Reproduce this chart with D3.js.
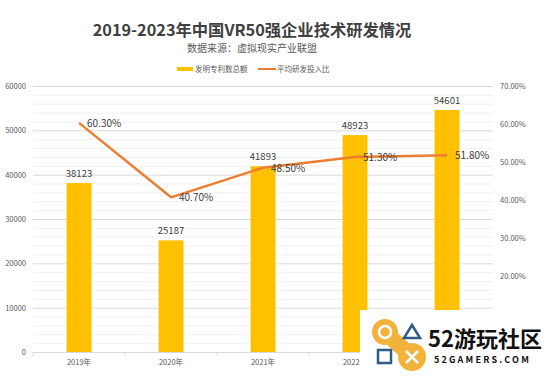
<!DOCTYPE html>
<html>
<head>
<meta charset="utf-8">
<script src="https://cdn.jsdelivr.net/npm/d3@7"></script>
<style>
body { margin:0; background:#fff; }
text { font-family: "Noto Sans CJK SC", "Noto Sans", sans-serif; }
</style>
</head>
<body>
<script>

var years = ["2019年", "2020年", "2021年", "2022年", "2023年"]
var patents = [38123, 25187, 41893, 48923, 54601]
var rdRatio = [60.3, 40.7, 48.5, 51.3, 51.8]
var leftTicks = [0, 10000, 20000, 30000, 40000, 50000, 60000]
// 0% and 10% sit under the watermark box in the original
var rightTicks = [20, 30, 40, 50, 60, 70]

var width = 550, height = 377
// note: "top" is taken by window.top, so plot edges get their own names
var plotLeft = 33, plotRight = 493, plotTop = 86, plotBottom = 352

var svg = d3.select("body").append("svg")
            .attr("width", width)
            .attr("height", height)

var x = d3.scaleBand().domain(years).range([plotLeft, plotRight]).paddingInner(0.73).paddingOuter(0.365)
var yL = d3.scaleLinear().domain([0, 60000]).range([plotBottom, plotTop])
var yR = d3.scaleLinear().domain([0, 70]).range([plotBottom, plotTop])

// title
svg.append("text").attr("x", 252).attr("y", 36).attr("text-anchor", "middle")
   .style("font-size", "16.3px").style("font-weight", "bold").style("fill", "#404040")
   .text("2019-2023年中国VR50强企业技术研发情况")
svg.append("text").attr("x", 252).attr("y", 52).attr("text-anchor", "middle")
   .style("font-size", "10px").style("fill", "#595959")
   .text("数据来源：虚拟现实产业联盟")

// legend
svg.append("rect").attr("x", 177).attr("y", 67).attr("width", 16).attr("height", 4).style("fill", "#FFC000")
svg.append("text").attr("x", 195).attr("y", 72).style("font-size", "7.5px").style("fill", "#595959").text("发明专利数总额")
svg.append("line").attr("x1", 258).attr("x2", 276).attr("y1", 69).attr("y2", 69)
   .style("stroke", "#ED7D31").style("stroke-width", 2)
svg.append("text").attr("x", 277).attr("y", 72).style("font-size", "7.5px").style("fill", "#595959").text("平均研发投入比")

// gridlines (minor every 2000, major every 10000)
svg.append("g").selectAll("line").data(d3.range(2000, 60001, 2000)).join("line")
   .attr("x1", plotLeft).attr("x2", plotRight)
   .attr("y1", d => yL(d) + 0.5).attr("y2", d => yL(d) + 0.5)
   .style("stroke", d => d % 10000 == 0 ? "#d9d9d9" : "#f0f0f0")
   .style("stroke-width", 1)

// left axis labels
svg.append("g").selectAll("text").data(leftTicks).join("text")
   .attr("x", 26).attr("y", d => yL(d) + 3).attr("text-anchor", "end")
   .style("font-size", "7.5px").style("fill", "#595959")
   .text(d => d)

// right axis labels
svg.append("g").selectAll("text").data(rightTicks).join("text")
   .attr("x", 500).attr("y", d => yR(d) + 3)
   .style("font-size", "7.5px").style("fill", "#595959")
   .text(d => d.toFixed(2) + "%")

// bars
svg.append("g").selectAll("rect").data(patents).join("rect")
   .attr("x", (d, i) => x(years[i]))
   .attr("y", d => yL(d))
   .attr("width", x.bandwidth())
   .attr("height", d => plotBottom - yL(d))
   .style("fill", "#FFC000")

svg.append("g").selectAll("text").data(patents).join("text")
   .attr("x", (d, i) => x(years[i]) + x.bandwidth() / 2)
   .attr("y", d => yL(d) - 6)
   .attr("text-anchor", "middle")
   .style("font-size", "9.5px").style("fill", "#404040")
   .text(d => d)

// x axis
svg.append("line").attr("x1", plotLeft).attr("x2", plotRight).attr("y1", plotBottom + 0.5).attr("y2", plotBottom + 0.5)
   .style("stroke", "#d9d9d9")
svg.append("g").selectAll("line").data(d3.range(0, years.length + 1)).join("line")
   .attr("x1", d => plotLeft + d * x.step()).attr("x2", d => plotLeft + d * x.step())
   .attr("y1", plotBottom).attr("y2", plotBottom + 4)
   .style("stroke", "#d9d9d9")
svg.append("g").selectAll("text").data(years).join("text")
   .attr("x", d => x(d) + x.bandwidth() / 2).attr("y", plotBottom + 13)
   .attr("text-anchor", "middle")
   .style("font-size", "7.5px").style("fill", "#595959")
   .text(d => d)

// line
var line = d3.line()
   .x((d, i) => x(years[i]) + x.bandwidth() / 2)
   .y(d => yR(d))
svg.append("path").datum(rdRatio).attr("d", line)
   .style("fill", "none").style("stroke", "#ED7D31").style("stroke-width", 2.5)
   .style("stroke-linejoin", "round")

svg.append("g").selectAll("text").data(rdRatio).join("text")
   .attr("x", (d, i) => x(years[i]) + x.bandwidth() / 2 + 8)
   .attr("y", d => yR(d) + 4)
   .style("font-size", "10px").style("fill", "#404040")
   .text(d => d.toFixed(2) + "%")

// watermark box
var wm = svg.append("g")
wm.append("rect").attr("x", 360).attr("y", 310).attr("width", 190).attr("height", 67).style("fill", "#fff")
wm.append("line").attr("x1", 385).attr("y1", 332).attr("x2", 412).attr("y2", 357)
  .style("stroke", "#F2B33D").style("stroke-width", 16)
wm.append("circle").attr("cx", 385).attr("cy", 332).attr("r", 13).style("fill", "#F2B33D")
wm.append("circle").attr("cx", 412).attr("cy", 357).attr("r", 14).style("fill", "#F2B33D")
wm.append("circle").attr("cx", 385).attr("cy", 332).attr("r", 6).style("fill", "none").style("stroke", "#fff").style("stroke-width", 2.5)
wm.append("path").attr("d", "M412,325 L420,338 L404,338 Z").style("fill", "none").style("stroke", "#2F5B85").style("stroke-width", 2.5)
wm.append("rect").attr("x", 378).attr("y", 350).attr("width", 13).attr("height", 13).style("fill", "none").style("stroke", "#2F5B85").style("stroke-width", 2.5)
wm.append("path").attr("d", "M406,351 L418,363 M418,351 L406,363").style("stroke", "#fff").style("stroke-width", 2.5)
wm.append("text").attr("x", 428).attr("y", 347).style("font-size", "22px").style("font-weight", "bold").style("fill", "#111")
  .text("52游玩社区")
wm.append("text").attr("x", 434).attr("y", 363).style("font-size", "9px").style("font-weight", "bold").style("fill", "#111")
  .style("letter-spacing", "2.2px").text("52GAMERS.COM")

</script>
</body>
</html>
